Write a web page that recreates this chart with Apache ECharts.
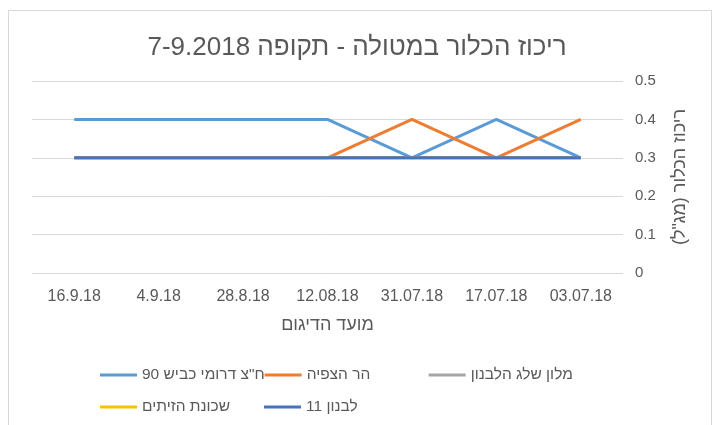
<!DOCTYPE html>
<html><head><meta charset="utf-8">
<script src="https://cdn.jsdelivr.net/npm/echarts@6/dist/echarts.min.js"></script>
<style>html,body{margin:0;padding:0;background:#fff}#c{width:714px;height:425px}</style>
</head><body><div id="c"></div>
<script>
var categories = ['03.07.18','17.07.18','31.07.18','12.08.18','28.8.18','4.9.18','16.9.18'];
var seriesNames = ['ח"צ דרומי כביש 90','הר הצפיה','מלון שלג הלבנון','שכונת הזיתים','לבנון 11'];
var kvish90 = [0.3,0.4,0.3,0.4,0.4,0.4,0.4];
var harHatzfiya = [0.4,0.3,0.4,0.3,0.3,0.3,0.3];
var malonSheleg = [0.3,0.3,0.3,0.3,0.3,0.3,0.3];
var shchunatZeitim = [0.3,0.3,0.3,0.3,0.3,0.3,0.3];
var levanon11 = [0.3,0.3,0.3,0.3,0.3,0.3,0.3];
var yTicks = [0,0.1,0.2,0.3,0.4,0.5];
var colors = ['#5B9BD5','#ED7D31','#A5A5A5','#FFC000','#4472C4'];
var values = [kvish90,harHatzfiya,malonSheleg,shchunatZeitim,levanon11];
var font = '"Liberation Sans", Arial, sans-serif';

var chart = echarts.init(document.getElementById('c'));
chart.setOption({
  animation:false,
  textStyle:{fontFamily:font},
  color:colors,
  title:{text:'ריכוז הכלור במטולה - תקופה 7-9.2018',left:'center',top:30,
    textStyle:{fontSize:26,fontWeight:'normal',color:'#595959',fontFamily:font}},
  graphic:[
    {type:'rect',shape:{x:8.5,y:10.5,width:703,height:440},style:{fill:'none',stroke:'#D9D9D9',lineWidth:1},z:-10}
  ],
  grid:{left:32,right:91,top:81,bottom:152},
  legend:{left:95,top:354,width:500,itemWidth:37,itemHeight:14,itemGap:0,
    data:seriesNames.map(function(n,i){return {name:n,icon:'path://M0,0L37,0L37,3L0,3Z'};}),
    textStyle:{fontSize:15.5,color:'#595959',width:122,height:32,lineHeight:32,fontFamily:font}},
  xAxis:{type:'category',data:categories,inverse:true,boundaryGap:true,
    name:'מועד הדיגום',nameLocation:'middle',nameGap:43,
    nameTextStyle:{fontSize:18,color:'#595959'},
    axisLine:{show:false},axisTick:{show:false},
    axisLabel:{fontSize:16,color:'#595959',margin:16,interval:0}},
  yAxis:{type:'value',position:'right',min:0,max:0.5,interval:0.1,
    name:'ריכוז הכלור (מג"ל)',nameLocation:'middle',nameRotate:90,nameGap:48,
    nameTextStyle:{fontSize:18,color:'#595959'},
    axisLine:{show:false},axisTick:{show:false},
    axisLabel:{fontSize:15,color:'#595959',margin:12,formatter:function(v){return String(Math.round(v*10)/10);}},
    splitLine:{lineStyle:{color:'#D9D9D9',width:1}}},
  series:seriesNames.map(function(n,i){
    return {name:n,type:'line',data:values[i],symbol:'none',lineStyle:{width:3,color:colors[i]},itemStyle:{color:colors[i]}};
  })
});
</script></body></html>
